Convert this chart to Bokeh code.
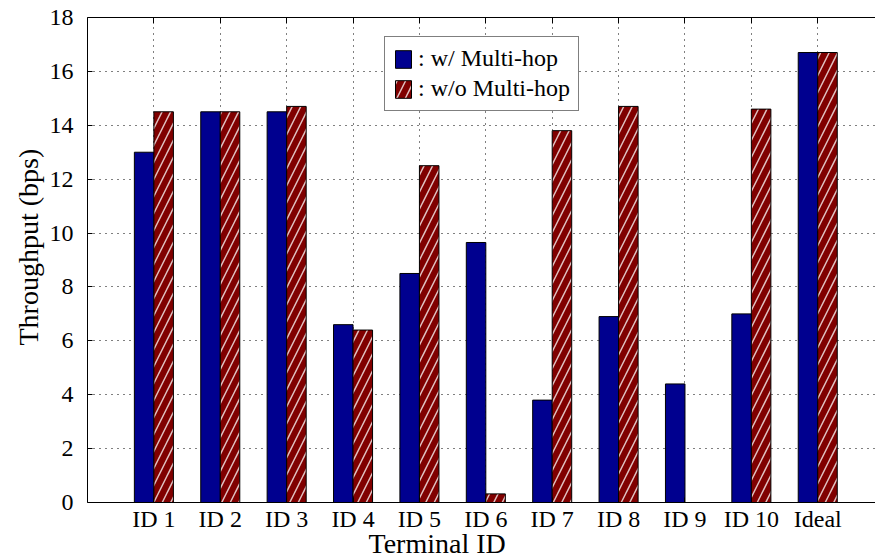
from bokeh.plotting import figure
from bokeh.models import (ColumnDataSource, Range1d, FixedTicker, LinearAxis,
                          Legend, LegendItem, Title, CustomJSTickFormatter)
from bokeh.transform import dodge
from bokeh.embed import file_html
from bokeh.resources import INLINE

# ---- data ----
categories = ["ID 1", "ID 2", "ID 3", "ID 4", "ID 5", "ID 6", "ID 7",
              "ID 8", "ID 9", "ID 10", "Ideal"]
with_multihop = [13.0, 14.5, 14.5, 6.6, 8.5, 9.65, 3.8, 6.9, 4.4, 7.0, 16.7]
without_multihop = [14.5, 14.5, 14.7, 6.4, 12.5, 0.32, 13.8, 14.7, 0.0, 14.6, 16.7]
y_ticks = [0, 2, 4, 6, 8, 10, 12, 14, 16, 18]
series_labels = [": w/ Multi-hop", ": w/o Multi-hop"]
x_label = "Terminal ID"
y_label = "Throughput (bps)"

positions = list(range(1, len(categories) + 1))
FONT = "Liberation Serif"
BLUE = "#00008F"
RED = "#800000"

src = ColumnDataSource(dict(x=positions, a=with_multihop, b=without_multihop))

p = figure(width=875, height=554,
           x_range=Range1d(0, 11.87), y_range=Range1d(0, 18),
           output_backend="svg", toolbar_location=None,
           min_border_left=87, min_border_right=0,
           min_border_top=17, min_border_bottom=52)
p.outline_line_color = None
p.background_fill_color = "white"
p.border_fill_color = "white"

# grid
p.xgrid.ticker = FixedTicker(ticks=positions)
p.ygrid.ticker = FixedTicker(ticks=y_ticks)
p.grid.grid_line_color = "black"
p.grid.grid_line_dash = "1 5"
p.grid.grid_line_width = 1

# bottom axis
xa = p.xaxis[0]
xa.ticker = FixedTicker(ticks=positions)
xa.major_label_overrides = {pos: c for pos, c in zip(positions, categories)}
xa.major_tick_in = 5
xa.major_tick_out = 0
xa.minor_tick_line_color = None
xa.axis_line_color = "black"
xa.major_label_standoff = 3
xa.major_label_text_font = FONT
xa.major_label_text_font_size = "24px"
xa.major_label_text_color = "black"

# left axis
ya = p.yaxis[0]
ya.ticker = FixedTicker(ticks=y_ticks)
ya.major_tick_in = 5
ya.major_tick_out = 0
ya.minor_tick_line_color = None
ya.axis_line_color = "black"
ya.major_label_standoff = 14
ya.major_label_text_font = FONT
ya.major_label_text_font_size = "24px"
ya.major_label_text_color = "black"

# top border with inward ticks (no labels)
top = LinearAxis(ticker=FixedTicker(ticks=positions),
                 formatter=CustomJSTickFormatter(code="return ''"),
                 major_tick_in=6, major_tick_out=0,
                 minor_tick_line_color=None,
                 major_label_text_font_size="1px",
                 major_label_standoff=0,
                 axis_line_color="black")
p.add_layout(top, "above")

# bars
r1 = p.vbar(x=dodge("x", -0.147, range=p.x_range), top="a", width=0.294,
            fill_color=BLUE, line_color="black", line_width=1, source=src)
r2 = p.vbar(x=dodge("x", 0.147, range=p.x_range), top="b", width=0.294,
            fill_color=RED, line_color="black", line_width=1,
            hatch_pattern="/", hatch_color="white", hatch_alpha=0.75,
            hatch_scale=17, hatch_weight=1.5, source=src)

legend = Legend(items=[LegendItem(label=series_labels[0], renderers=[r1]),
                       LegendItem(label=series_labels[1], renderers=[r2])],
                location=(297, 391),
                glyph_width=20, glyph_height=22,
                label_standoff=5, spacing=3, padding=8, margin=0,
                label_height=22,
                label_text_font=FONT, label_text_font_size="24px",
                label_text_color="black",
                border_line_color="black", border_line_width=1,
                background_fill_color="white", background_fill_alpha=1.0)
p.add_layout(legend)

# axis titles
p.add_layout(Title(text=x_label, align="left", offset=281, standoff=-17,
                   text_font=FONT, text_font_size="28px",
                   text_font_style="normal", text_color="black"), "below")
p.add_layout(Title(text=y_label, align="left", offset=157, standoff=6,
                   text_font=FONT, text_font_size="28px",
                   text_font_style="normal", text_color="black"), "left")

open("out.html", "w").write(file_html(p, INLINE))
